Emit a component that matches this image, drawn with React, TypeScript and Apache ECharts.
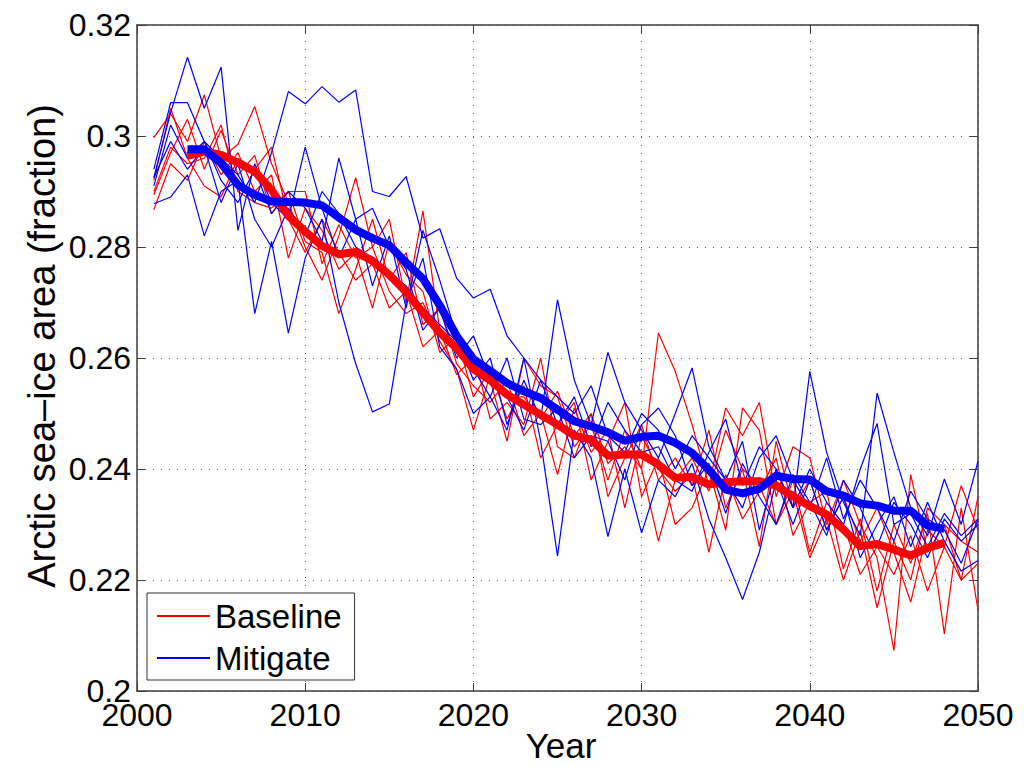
import React, { useEffect, useRef } from "react";
import * as echarts from "echarts";

// Years of the individual ensemble members
const YEARS = [
  2001, 2002, 2003, 2004, 2005, 2006, 2007, 2008, 2009, 2010,
  2011, 2012, 2013, 2014, 2015, 2016, 2017, 2018, 2019, 2020,
  2021, 2022, 2023, 2024, 2025, 2026, 2027, 2028, 2029, 2030,
  2031, 2032, 2033, 2034, 2035, 2036, 2037, 2038, 2039, 2040,
  2041, 2042, 2043, 2044, 2045, 2046, 2047, 2048, 2049, 2050,
];

// Baseline ensemble members
const BASE_1 = [
  0.2997, 0.3040, 0.2990, 0.3074, 0.2960, 0.2985, 0.3053, 0.2950, 0.2880, 0.2800,
  0.2740, 0.2820, 0.2925, 0.2800, 0.2850, 0.2700, 0.2865, 0.2650, 0.2570, 0.2600,
  0.2560, 0.2450, 0.2600, 0.2550, 0.2530, 0.2440, 0.2480, 0.2380, 0.2470, 0.2400,
  0.2645, 0.2576, 0.2480, 0.2370, 0.2510, 0.2460, 0.2520, 0.2350, 0.2440, 0.2420,
  0.2300, 0.2380, 0.2300, 0.2240, 0.2073, 0.2390, 0.2250, 0.2300, 0.2200, 0.2350,
];
const BASE_2 = [
  0.2894, 0.2970, 0.3030, 0.2940, 0.3010, 0.2930, 0.2965, 0.2860, 0.2900, 0.2810,
  0.2790, 0.2680, 0.2760, 0.2850, 0.2740, 0.2790, 0.2660, 0.2690, 0.2590, 0.2550,
  0.2520, 0.2560, 0.2460, 0.2500, 0.2390, 0.2510, 0.2430, 0.2470, 0.2330, 0.2460,
  0.2400, 0.2360, 0.2390, 0.2250, 0.2390, 0.2310, 0.2360, 0.2420, 0.2280, 0.2340,
  0.2360, 0.2220, 0.2310, 0.2180, 0.2300, 0.2230, 0.2320, 0.2103, 0.2330, 0.2146,
];
const BASE_3 = [
  0.2867, 0.2950, 0.2920, 0.2990, 0.2930, 0.2970, 0.2900, 0.2930, 0.2780, 0.2870,
  0.2830, 0.2760, 0.2790, 0.2690, 0.2810, 0.2750, 0.2720, 0.2610, 0.2640, 0.2530,
  0.2580, 0.2490, 0.2550, 0.2420, 0.2480, 0.2520, 0.2380, 0.2450, 0.2520, 0.2350,
  0.2420, 0.2300, 0.2330, 0.2400, 0.2290, 0.2510, 0.2470, 0.2300, 0.2380, 0.2250,
  0.2340, 0.2300, 0.2210, 0.2260, 0.2210, 0.2280, 0.2180, 0.2260, 0.2200, 0.2230,
];
const BASE_4 = [
  0.2920, 0.3050, 0.2960, 0.2910, 0.2890, 0.2960, 0.2940, 0.2980, 0.2850, 0.2790,
  0.2850, 0.2790, 0.2740, 0.2770, 0.2690, 0.2720, 0.2620, 0.2650, 0.2620, 0.2610,
  0.2490, 0.2520, 0.2480, 0.2600, 0.2440, 0.2420, 0.2500, 0.2350, 0.2420, 0.2480,
  0.2380, 0.2420, 0.2370, 0.2470, 0.2330, 0.2400, 0.2260, 0.2450, 0.2330, 0.2380,
  0.2290, 0.2350, 0.2270, 0.2330, 0.2250, 0.2160, 0.2290, 0.2260, 0.2370, 0.2290,
];
const BASE_5 = [
  0.2900, 0.2980, 0.2950, 0.2960, 0.3020, 0.2900, 0.2880, 0.2870, 0.2900, 0.2900,
  0.2770, 0.2840, 0.2780, 0.2800, 0.2720, 0.2680, 0.2700, 0.2630, 0.2580, 0.2470,
  0.2570, 0.2530, 0.2530, 0.2490, 0.2540, 0.2460, 0.2500, 0.2410, 0.2440, 0.2400,
  0.2270, 0.2380, 0.2420, 0.2360, 0.2470, 0.2400, 0.2370, 0.2300, 0.2360, 0.2240,
  0.2310, 0.2200, 0.2290, 0.2150, 0.2270, 0.2200, 0.2330, 0.2300, 0.2270, 0.2250,
];

// Mitigate ensemble members
const MIT_1 = [
  0.2925, 0.3042, 0.3142, 0.3050, 0.3124, 0.2830, 0.2950, 0.2880, 0.2850, 0.2980,
  0.2870, 0.2780, 0.2850, 0.2730, 0.2820, 0.2690, 0.2830, 0.2740, 0.2640, 0.2560,
  0.2600, 0.2480, 0.2560, 0.2490, 0.2705, 0.2560, 0.2480, 0.2610, 0.2520, 0.2470,
  0.2420, 0.2500, 0.2582, 0.2440, 0.2380, 0.2450, 0.2290, 0.2400, 0.2330, 0.2576,
  0.2430, 0.2340, 0.2280, 0.2537, 0.2430, 0.2330, 0.2280, 0.2382, 0.2300, 0.2414,
];
const MIT_2 = [
  0.2940, 0.3060, 0.3060, 0.2990, 0.2960, 0.2930, 0.2880, 0.2970, 0.3080, 0.3058,
  0.3089, 0.3061, 0.3083, 0.2900, 0.2891, 0.2927, 0.2816, 0.2833, 0.2744, 0.2708,
  0.2724, 0.2640, 0.2600, 0.2560, 0.2530, 0.2500, 0.2550, 0.2460, 0.2430, 0.2500,
  0.2470, 0.2400, 0.2460, 0.2420, 0.2380, 0.2330, 0.2420, 0.2460, 0.2380, 0.2330,
  0.2420, 0.2310, 0.2380, 0.2330, 0.2270, 0.2360, 0.2310, 0.2290, 0.2230, 0.2310,
];
const MIT_3 = [
  0.2878, 0.2890, 0.2930, 0.2820, 0.2900, 0.2920, 0.2680, 0.2810, 0.2645, 0.2780,
  0.2850, 0.2700, 0.2590, 0.2503, 0.2517, 0.2700, 0.2780, 0.2620, 0.2580, 0.2500,
  0.2530, 0.2470, 0.2600, 0.2450, 0.2243, 0.2470, 0.2420, 0.2278, 0.2400, 0.2285,
  0.2380, 0.2350, 0.2410, 0.2310, 0.2240, 0.2165, 0.2250, 0.2380, 0.2300, 0.2380,
  0.2290, 0.2350, 0.2240, 0.2300, 0.2350, 0.2260, 0.2340, 0.2270, 0.2216, 0.2235,
];
const MIT_4 = [
  0.2910, 0.3020, 0.2960, 0.2990, 0.2920, 0.2880, 0.2940, 0.2860, 0.2900, 0.2870,
  0.2810, 0.2960, 0.2850, 0.2870, 0.2800, 0.2760, 0.2650, 0.2690, 0.2600, 0.2640,
  0.2560, 0.2530, 0.2470, 0.2560, 0.2480, 0.2530, 0.2440, 0.2520, 0.2470, 0.2430,
  0.2440, 0.2380, 0.2360, 0.2430, 0.2490, 0.2370, 0.2440, 0.2400, 0.2330, 0.2400,
  0.2340, 0.2300, 0.2400, 0.2482, 0.2300, 0.2320, 0.2260, 0.2320, 0.2280, 0.2310,
];
const MIT_5 = [
  0.2925, 0.2990, 0.2940, 0.2980, 0.2880, 0.2950, 0.2850, 0.2800, 0.2870, 0.2820,
  0.2900, 0.2860, 0.2800, 0.2780, 0.2750, 0.2730, 0.2690, 0.2660, 0.2630, 0.2580,
  0.2530, 0.2600, 0.2490, 0.2480, 0.2510, 0.2420, 0.2460, 0.2450, 0.2380, 0.2480,
  0.2510, 0.2460, 0.2370, 0.2410, 0.2320, 0.2410, 0.2350, 0.2300, 0.2390, 0.2340,
  0.2280, 0.2380, 0.2330, 0.2260, 0.2340, 0.2300, 0.2240, 0.2310, 0.2270, 0.2300,
];

// Smoothed ensemble means
const MEAN_YEARS = [
  2003, 2004, 2005, 2006, 2007, 2008, 2009, 2010, 2011, 2012,
  2013, 2014, 2015, 2016, 2017, 2018, 2019, 2020, 2021, 2022,
  2023, 2024, 2025, 2026, 2027, 2028, 2029, 2030, 2031, 2032,
  2033, 2034, 2035, 2036, 2037, 2038, 2039, 2040, 2041, 2042,
  2043, 2044, 2045, 2046, 2047, 2048,
];
const BASE_MEAN = [
  0.2964, 0.2972, 0.2966, 0.2952, 0.2936, 0.2903, 0.2856, 0.2828, 0.2802, 0.2787,
  0.2791, 0.2775, 0.2750, 0.2719, 0.2682, 0.2646, 0.2618, 0.2580, 0.2560, 0.2534,
  0.2516, 0.2498, 0.2480, 0.2460, 0.2453, 0.2424, 0.2426, 0.2426, 0.2408, 0.2384,
  0.2386, 0.2372, 0.2376, 0.2378, 0.2378, 0.2370, 0.2351, 0.2333, 0.2318, 0.2291,
  0.2261, 0.2265, 0.2255, 0.2244, 0.2258, 0.2267,
];
const MIT_MEAN = [
  0.2976, 0.2976, 0.2951, 0.2912, 0.2894, 0.2882, 0.2881, 0.2880, 0.2875, 0.2853,
  0.2831, 0.2816, 0.2803, 0.2772, 0.2743, 0.2695, 0.2640, 0.2598, 0.2577, 0.2555,
  0.2540, 0.2528, 0.2507, 0.2486, 0.2477, 0.2466, 0.2451, 0.2458, 0.2460, 0.2447,
  0.2429, 0.2399, 0.2363, 0.2356, 0.2364, 0.2388, 0.2382, 0.2381, 0.2360, 0.2352,
  0.2338, 0.2334, 0.2325, 0.2325, 0.2298, 0.2292,
];

const X_TICKS = [2000, 2010, 2020, 2030, 2040, 2050];
const Y_TICKS = [0.2, 0.22, 0.24, 0.26, 0.28, 0.3, 0.32];

const BASE_MEMBERS = [BASE_1, BASE_2, BASE_3, BASE_4, BASE_5];
const MIT_MEMBERS = [MIT_1, MIT_2, MIT_3, MIT_4, MIT_5];

const RED = "#ff0000";
const BLUE = "#0000ff";
const FONT = "'Liberation Sans', Arial, Helvetica, sans-serif";
const AXIS_COLOR = "#3c3c3c";

const pairs = (xs: number[], ys: number[]) => xs.map((x, i) => [x, ys[i]]);

export default function App() {
  const ref = useRef<HTMLDivElement>(null);

  useEffect(() => {
    if (!ref.current) return;
    const chart = echarts.init(ref.current, undefined, { renderer: "svg" });

    const thin = (name: string, color: string, values: number[]) => ({
      type: "line",
      name,
      data: pairs(YEARS, values),
      symbol: "none",
      showSymbol: false,
      lineStyle: { color, width: 1.2 },
      itemStyle: { color },
      xAxisIndex: 0,
      yAxisIndex: 0,
      silent: true,
    });
    const thick = (name: string, color: string, values: number[]) => ({
      type: "line",
      name,
      data: pairs(MEAN_YEARS, values),
      symbol: "none",
      showSymbol: false,
      lineStyle: { color, width: 8, join: "round", cap: "butt" },
      itemStyle: { color },
      xAxisIndex: 0,
      yAxisIndex: 0,
      silent: true,
    });

    const yMin = Y_TICKS[0];
    const yMax = Y_TICKS[Y_TICKS.length - 1];
    const xMin = X_TICKS[0];
    const xMax = X_TICKS[X_TICKS.length - 1];

    const gridLine = {
      show: true,
      lineStyle: { color: "#555", width: 1, type: [1, 7] },
    };

    chart.setOption({
      animation: false,
      backgroundColor: "#ffffff",
      textStyle: { fontFamily: FONT },
      grid: { left: 137, top: 25, width: 841, height: 666, containLabel: false },
      xAxis: [
        {
          type: "value",
          min: xMin,
          max: xMax,
          interval: 10,
          position: "bottom",
          axisLine: { show: true, lineStyle: { color: AXIS_COLOR, width: 1.5 } },
          axisTick: { show: true, inside: true, length: 8, lineStyle: { color: AXIS_COLOR } },
          axisLabel: {
            show: true,
            color: "#000",
            fontSize: 32,
            fontFamily: FONT,
            margin: 8,
            formatter: (v: number) => String(v),
          },
          splitLine: gridLine,
        },
        {
          type: "value",
          min: xMin,
          max: xMax,
          interval: 10,
          position: "top",
          axisLine: { show: true, onZero: false, lineStyle: { color: AXIS_COLOR, width: 1.5 } },
          axisTick: { show: true, inside: true, length: 8, lineStyle: { color: AXIS_COLOR } },
          axisLabel: { show: false },
          splitLine: { show: false },
        },
      ],
      yAxis: [
        {
          type: "value",
          min: yMin,
          max: yMax,
          interval: 0.02,
          position: "left",
          axisLine: { show: true, onZero: false, lineStyle: { color: AXIS_COLOR, width: 1.5 } },
          axisTick: { show: true, inside: true, length: 8, lineStyle: { color: AXIS_COLOR } },
          axisLabel: {
            show: true,
            color: "#000",
            fontSize: 32,
            fontFamily: FONT,
            margin: 6,
            formatter: (v: number) => String(parseFloat(v.toFixed(2))),
          },
          splitLine: gridLine,
        },
        {
          type: "value",
          min: yMin,
          max: yMax,
          interval: 0.02,
          position: "right",
          axisLine: { show: true, onZero: false, lineStyle: { color: AXIS_COLOR, width: 1.5 } },
          axisTick: { show: true, inside: true, length: 8, lineStyle: { color: AXIS_COLOR } },
          axisLabel: { show: false },
          splitLine: { show: false },
        },
      ],
      legend: {
        show: true,
        data: ["Baseline", "Mitigate"],
        orient: "vertical",
        left: 147,
        top: 593,
        padding: [5, 13, 4, 10],
        itemGap: 6,
        itemWidth: 53,
        itemHeight: 2,
        icon: "rect",
        backgroundColor: "#ffffff",
        borderColor: "#333",
        borderWidth: 1,
        borderRadius: 0,
        selectedMode: false,
        textStyle: { fontSize: 33, lineHeight: 36, color: "#000", fontFamily: FONT },
      },
      graphic: [
        {
          type: "text",
          x: 42,
          y: 346,
          rotation: Math.PI / 2,
          style: {
            text: "Arctic sea–ice area (fraction)",
            fontSize: 38,
            fontFamily: FONT,
            fill: "#000",
            align: "center",
            verticalAlign: "middle",
          },
        },
        {
          type: "text",
          x: 561,
          y: 728,
          style: {
            text: "Year",
            fontSize: 35,
            lineHeight: 35,
            fontFamily: FONT,
            fill: "#000",
            align: "center",
            verticalAlign: "top",
          },
        },
      ],
      series: [
        ...BASE_MEMBERS.map((m) => thin("Baseline", RED, m)),
        ...MIT_MEMBERS.map((m) => thin("Mitigate", BLUE, m)),
        thick("Baseline mean", RED, BASE_MEAN),
        thick("Mitigate mean", BLUE, MIT_MEAN),
      ],
    });

    return () => chart.dispose();
  }, []);

  return (
    <div
      ref={ref}
      style={{ position: "fixed", left: 0, top: 0, width: 1024, height: 766, background: "#fff" }}
    />
  );
}
